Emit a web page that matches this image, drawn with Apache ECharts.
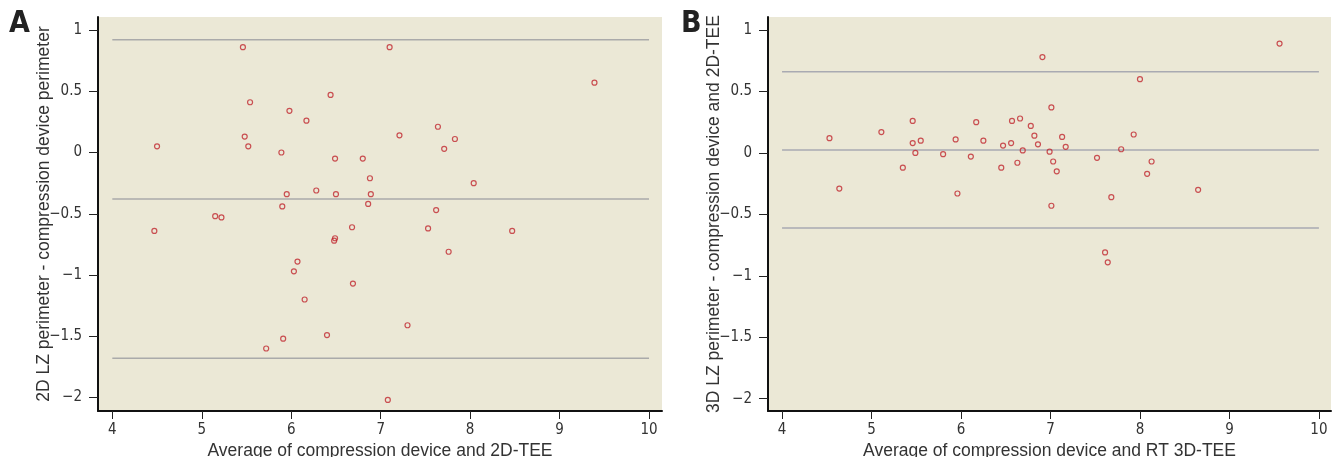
<!DOCTYPE html>
<html>
<head>
<meta charset="utf-8">
<script src="https://cdn.jsdelivr.net/npm/echarts@6/dist/echarts.min.js"></script>
<style>
  html, body { margin: 0; padding: 0; background: #fff; }
  #main { width: 1335px; height: 457px; }
</style>
</head>
<body>
<div id="main"></div>
<script>
// ticks shared by both panels
const xTicks = [4, 5, 6, 7, 8, 9, 10]
const yTicks = [-2, -1.5, -1, -0.5, 0, 0.5, 1]
const lineSpan = [4, 10]

// panel A: 2D LZ vs compression device
const aX = [5.46, 7.10, 9.39, 6.44, 5.54, 5.98, 6.17, 7.64, 7.21, 5.48, 7.83, 4.50, 5.52, 7.71, 5.89,
  6.49, 6.80, 6.88, 8.04, 6.28, 5.95, 6.50, 6.89, 6.86, 5.90, 7.62, 5.15, 5.22, 6.68, 7.53,
  4.47, 8.47, 6.49, 6.48, 7.76, 6.07, 6.03, 6.69, 6.15, 7.30, 6.40, 5.91, 5.72, 7.08]
const aY = [0.86, 0.86, 0.57, 0.47, 0.41, 0.34, 0.26, 0.21, 0.14, 0.13, 0.11, 0.05, 0.05, 0.03, 0.00,
  -0.05, -0.05, -0.21, -0.25, -0.31, -0.34, -0.34, -0.34, -0.42, -0.44, -0.47, -0.52, -0.53, -0.61, -0.62,
  -0.64, -0.64, -0.70, -0.72, -0.81, -0.89, -0.97, -1.07, -1.20, -1.41, -1.49, -1.52, -1.60, -2.02]
const aLimits = [0.92, -0.38, -1.68]

// panel B: 3D LZ vs compression device
const bX = [4.53, 4.64, 5.11, 5.35, 5.46, 5.46, 5.55, 5.49, 5.80, 5.94, 5.96, 6.17, 6.11, 6.25, 6.45,
  6.47, 6.91, 6.57, 6.66, 6.56, 6.78, 6.82, 6.69, 6.63, 6.86, 7.01, 6.99, 7.13, 7.17, 7.03,
  7.07, 7.01, 7.52, 7.79, 7.93, 8.00, 8.13, 8.08, 7.68, 8.65, 9.56, 7.61, 7.64]
const bY = [0.12, -0.29, 0.17, -0.12, 0.26, 0.08, 0.10, 0.00, -0.01, 0.11, -0.33, 0.25, -0.03, 0.10, -0.12,
  0.06, 0.78, 0.26, 0.28, 0.08, 0.22, 0.14, 0.02, -0.08, 0.07, 0.37, 0.01, 0.13, 0.05, -0.07,
  -0.15, -0.43, -0.04, 0.03, 0.15, 0.60, -0.07, -0.17, -0.36, -0.30, 0.89, -0.81, -0.89]
const bLimits = [0.66, 0.023, -0.61]

const labelFont = "'Liberation Sans Narrow', 'DejaVu Sans Condensed', sans-serif"
const titleFont = "'Liberation Sans', sans-serif"

function fmt(v) {
  return v < 0 ? '\u2212' + Math.abs(v) : String(v)
}

function xAxisFor(idx, min, max, name) {
  return {
    type: 'value', gridIndex: idx, min: min, max: max,
    name: name, nameLocation: 'middle', nameGap: 31, nameMoveOverlap: false,
    nameTextStyle: { fontFamily: titleFont, fontSize: 17.5, color: '#333' },
    axisLine: { show: true, onZero: false, lineStyle: { color: '#111', width: 2 } },
    axisTick: { show: true, length: 8, customValues: xTicks, lineStyle: { color: '#222' } },
    axisLabel: { customValues: xTicks, formatter: fmt, margin: 12,
      fontFamily: labelFont, fontSize: 15, color: '#333' },
    splitLine: { show: false },
  }
}

function yAxisFor(idx, min, max, name) {
  return {
    type: 'value', gridIndex: idx, min: min, max: max,
    name: name, nameLocation: 'middle', nameGap: 45, nameMoveOverlap: false,
    nameTextStyle: { fontFamily: titleFont, fontSize: 17.5, color: '#333' },
    axisLine: { show: true, onZero: false, lineStyle: { color: '#111', width: 2 } },
    axisTick: { show: true, length: 9, customValues: yTicks, lineStyle: { color: '#222' } },
    axisLabel: { customValues: yTicks, formatter: fmt, margin: 16,
      fontFamily: labelFont, fontSize: 15, color: '#333' },
    splitLine: { show: false },
  }
}

function points(xs, ys) {
  return xs.map((x, i) => [x, ys[i]])
}

function limitLines(idx, limits, color) {
  return limits.map(v => ({
    type: 'line', xAxisIndex: idx, yAxisIndex: idx,
    data: [[lineSpan[0], v], [lineSpan[1], v]],
    symbol: 'none', silent: true,
    lineStyle: { color: color, width: 1.5 },
  }))
}

function scatter(idx, xs, ys) {
  return {
    type: 'scatter', xAxisIndex: idx, yAxisIndex: idx,
    data: points(xs, ys),
    symbol: 'circle', symbolSize: 5,
    itemStyle: { color: 'rgba(0,0,0,0)', borderColor: '#c0282f', borderWidth: 1.2 },
    z: 5,
  }
}

const chart = echarts.init(document.getElementById('main'), null, { renderer: 'canvas' })

const gridBase = { top: 17, bottom: 46, show: true, backgroundColor: '#ebe8d6', borderWidth: 0,
  containLabel: false, outerBoundsMode: 'none' }

const option = {
  animation: false,
  grid: [
    Object.assign({ left: 98, right: 673 }, gridBase),
    Object.assign({ left: 768, right: 4 }, gridBase),
  ],
  xAxis: [
    xAxisFor(0, 3.84, 10.145, 'Average of compression device and 2D-TEE'),
    xAxisFor(1, 3.843, 10.135, 'Average of compression device and RT 3D-TEE'),
  ],
  yAxis: [
    yAxisFor(0, -2.11, 1.106, '2D LZ perimeter - compression device perimeter'),
    yAxisFor(1, -2.1, 1.106, '3D LZ perimeter - compression device and 2D-TEE'),
  ],
  graphic: [
    { type: 'text', left: 9, top: 9, style: { text: 'A', font: "bold 30px " + labelFont, fill: '#222' } },
    { type: 'text', left: 681, top: 9, style: { text: 'B', font: "bold 30px " + labelFont, fill: '#222' } },
  ],
  series: [
    ...limitLines(0, aLimits, '#aaaaaa'),
    ...limitLines(1, bLimits, '#a9aab2'),
    scatter(0, aX, aY),
    scatter(1, bX, bY),
  ],
}

option && chart.setOption(option)
</script>
</body>
</html>
